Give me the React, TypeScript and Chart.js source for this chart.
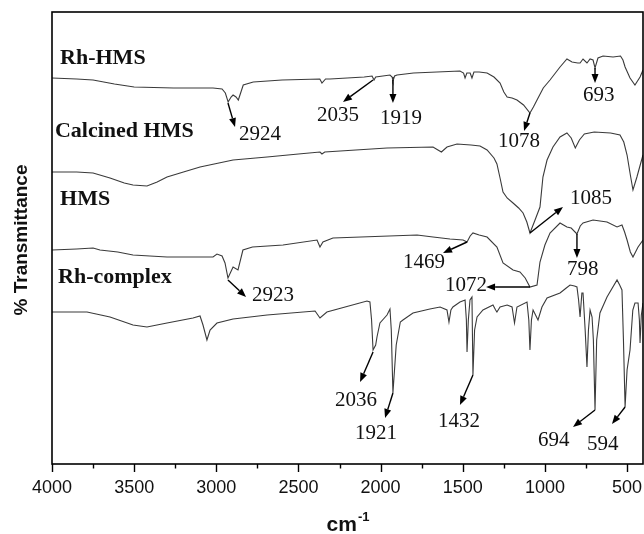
import React, { useEffect, useRef } from "react";
import { Chart, registerables } from "chart.js";

Chart.register(...registerables);

// ---- Data (wavenumber in cm-1, transmittance in arbitrary offset units) ----
const rhHmsWn = [4000,3850,3750,3620,3500,3260,3020,2965,2945,2928,2910,2898,2880,2866,2850,2836,2775,2600,2370,2357,2335,2308,2100,2052,2040,2030,1943,1930,1925,1915,1900,1800,1657,1517,1495,1486,1475,1455,1444,1432,1400,1352,1310,1273,1250,1230,1200,1170,1130,1091,1070,1048,1010,969,908,866,835,800,786,768,744,725,707,695,677,646,585,540,525,512,482,452,421,403];
const rhHmsT = [96.5,96.25,96,95,94.25,94,94,93.75,92.75,90.5,91.75,92.25,91.75,91,93,94.75,95.5,96,96.25,95.25,96.25,96.25,96.75,97,96,96.75,97.25,96.75,95.75,97,97.25,97.75,98,98.25,97.75,96.5,97.75,97.75,96.5,98,98,97.75,96.75,95.25,93,91.75,91.5,91,89.75,87.75,89.25,91,94,96,99.25,101.25,100.5,100.25,100.25,101.25,100.25,101.25,101,99,101.5,102,101.75,102,101,99.25,96.5,94.75,96.75,98.5];

const calcinedWn = [4000,3850,3750,3647,3560,3507,3422,3360,3300,3200,3099,2898,2691,2500,2369,2357,2340,1961,1681,1651,1630,1596,1535,1450,1395,1352,1310,1292,1273,1255,1230,1194,1160,1133,1110,1091,1060,1030,1012,987,951,908,866,840,815,790,760,700,600,543,520,500,480,464,440,420,403];
const calcinedT = [73,73,72.75,71.5,70.25,69.75,69.5,70.5,71.75,73,74.25,76,76.75,77.5,78,77.5,78,79,79.25,78.5,78,79.25,80,79.75,79.5,78.5,76.5,75,71.5,68,66.5,65.25,64,62.75,60.5,57.75,61,64.25,71.75,76,79.25,81.75,82.75,81.5,79,81,82.5,83,82.75,82.25,80.5,77.25,72.25,68.5,71.75,74.75,77.25];

const hmsWn = [4000,3850,3750,3708,3600,3507,3404,3300,3020,2996,2965,2947,2929,2898,2868,2838,2780,2594,2387,2369,2351,2290,1778,1681,1578,1498,1474,1455,1438,1400,1352,1292,1255,1194,1152,1120,1091,1048,1030,1000,969,908,866,840,805,785,768,707,622,561,531,515,500,480,464,433,403];
const hmsT = [53.5,53.75,54,53.5,53,52.25,52,51.75,51.75,52.5,52,50.25,46.5,49.25,48.5,53.5,54.25,54.75,56,54.25,55.5,56.5,57.25,56.75,56.25,56,55.5,57,57.75,57.25,56.75,54.25,50.25,48.5,48,46.5,44.25,44.75,50.5,54.75,57.75,60.25,59.25,59,57.5,59.5,60.25,61,60.5,59.25,59.75,58,56,53,51.75,54.25,56];

const rhComplexWn = [4000,3787,3647,3507,3422,3300,3142,3099,3081,3057,3038,2996,2898,2691,2399,2369,2327,2083,2065,2055,2046,2030,2022,2004,1961,1943,1935,1925,1905,1880,1864,1803,1700,1638,1596,1584,1572,1560,1517,1486,1478,1474,1466,1456,1444,1438,1428,1413,1377,1316,1300,1292,1273,1230,1200,1185,1170,1109,1098,1091,1082,1072,1042,1018,987,908,870,847,820,805,795,786,775,768,755,744,735,725,713,705,695,685,665,622,561,545,531,522,512,500,482,465,452,433,425,421,413,403];
const rhComplexT = [38,38,36.75,34.75,34.25,35.25,36.5,37,34.75,31,33.5,35.25,36.25,37.25,38.25,36.5,38,40.75,40.5,36,28.5,29.75,31.75,35.25,37.25,38.75,33.5,17.75,29.75,35.5,36,37.75,38.75,39.25,38.5,35.5,38.5,39.25,40.5,41,36,28,36,41,41.75,22.25,33.5,36.75,38.5,39.75,38.5,38,39.25,39.75,39.25,35.25,39.25,40.5,36,28.5,36,38.5,36,39.25,41.5,42.75,44,44.75,44.5,44.25,41,36.75,42.75,42.75,33.5,24.25,33.5,38.5,36.75,31,13.5,31,37.75,41.75,46,44.75,43.5,31,14.25,23.5,28.5,38.5,40.25,40.25,36,30.25,37.25,40.25];

const seriesNames = ["Rh-HMS", "Calcined HMS", "HMS", "Rh-complex"];
const seriesNameWn = [3951, 3982, 3951, 3963];
const seriesNameT = [100, 81.75, 64.75, 45.25];

const xTickValues = [4000, 3500, 3000, 2500, 2000, 1500, 1000, 500];

// peak annotations: label, label anchor, arrow start, arrow end (data coordinates)
const peakLabels = ["2924","2035","1919","1078","693","1085","1469","1072","798","2923","2036","1921","1432","694","594"];
const peakTextWn = [2862,2387,2004,1285,768,847,1864,1608,865,2783,2278,2156,1651,1042,744];
const peakTextT = [81,85.75,85,79.25,90.75,65,49,43.25,47.25,40.75,14.5,6.25,9.25,4.5,3.5];
const arrowFromWn = [2929,2046,1925,1091,695,1091,1474,1091,805,2929,2046,1925,1438,695,512];
const arrowFromT = [90.25,96,96,87.75,99,57.75,55.5,44.25,57.5,46,28,17.75,22.25,13.5,14.25];
const arrowToWn = [2886,2229,1925,1127,695,890,1620,1358,805,2819,2125,1973,1517,829,592];
const arrowToT = [84.25,90.5,90.25,83.25,95.25,64.25,52.75,44.25,51.5,41.75,20.5,11.5,14.75,9.25,10];

const toPoints = (wn: number[], t: number[]) => wn.map((w, i) => ({ x: w, y: t[i] }));

const overlayPlugin = {
  id: "overlay",
  afterDatasetsDraw(chart: any) {
    const { ctx, chartArea: ca, scales } = chart;
    const x = scales.x;
    const y = scales.y;
    ctx.save();
    // frame
    ctx.strokeStyle = "#000";
    ctx.lineWidth = 1.6;
    ctx.strokeRect(ca.left, ca.top, ca.right - ca.left, ca.bottom - ca.top);
    // ticks
    ctx.lineWidth = 1.4;
    for (let w = 4000; w >= 500; w -= 250) {
      const px = Math.round(x.getPixelForValue(w)) + 0.5;
      const len = w % 500 === 0 ? 8 : 4.5;
      ctx.beginPath();
      ctx.moveTo(px, ca.bottom);
      ctx.lineTo(px, ca.bottom + len);
      ctx.stroke();
    }
    // series names
    ctx.fillStyle = "#111";
    ctx.textAlign = "left";
    ctx.textBaseline = "alphabetic";
    ctx.font = 'bold 22px "Liberation Serif"';
    seriesNames.forEach((n, i) => {
      ctx.fillText(n, x.getPixelForValue(seriesNameWn[i]), y.getPixelForValue(seriesNameT[i]));
    });
    // peak labels + arrows
    ctx.font = '21px "Liberation Serif"';
    peakLabels.forEach((lab, i) => {
      ctx.fillStyle = "#111";
      ctx.fillText(lab, x.getPixelForValue(peakTextWn[i]), y.getPixelForValue(peakTextT[i]));
      const x1 = x.getPixelForValue(arrowFromWn[i]);
      const y1 = y.getPixelForValue(arrowFromT[i]);
      const x2 = x.getPixelForValue(arrowToWn[i]);
      const y2 = y.getPixelForValue(arrowToT[i]);
      const ang = Math.atan2(y2 - y1, x2 - x1);
      const hl = 9;
      const hw = 3.5;
      const bx = x2 - hl * Math.cos(ang);
      const by = y2 - hl * Math.sin(ang);
      ctx.strokeStyle = "#000";
      ctx.lineWidth = 1.4;
      ctx.beginPath();
      ctx.moveTo(x1, y1);
      ctx.lineTo(bx, by);
      ctx.stroke();
      ctx.fillStyle = "#000";
      ctx.beginPath();
      ctx.moveTo(x2, y2);
      ctx.lineTo(bx + hw * Math.sin(ang), by - hw * Math.cos(ang));
      ctx.lineTo(bx - hw * Math.sin(ang), by + hw * Math.cos(ang));
      ctx.closePath();
      ctx.fill();
    });
    // y title
    ctx.save();
    ctx.translate(22, (ca.top + ca.bottom) / 2 + 2);
    ctx.rotate(-Math.PI / 2);
    ctx.textAlign = "center";
    ctx.textBaseline = "middle";
    ctx.fillStyle = "#111";
    ctx.font = 'bold 19px "Liberation Sans"';
    ctx.fillText("% Transmittance", 0, 0);
    ctx.restore();
    // x title cm^-1
    ctx.fillStyle = "#111";
    ctx.textAlign = "left";
    ctx.textBaseline = "alphabetic";
    ctx.font = 'bold 21px "Liberation Sans"';
    const wCm = ctx.measureText("cm").width;
    ctx.font = 'bold 13px "Liberation Sans"';
    const wSup = ctx.measureText("-1").width;
    const startX = (ca.left + ca.right) / 2 - (wCm + wSup) / 2;
    ctx.font = 'bold 21px "Liberation Sans"';
    ctx.fillText("cm", startX, 531);
    ctx.font = 'bold 13px "Liberation Sans"';
    ctx.fillText("-1", startX + wCm + 1, 521);
    ctx.restore();
  },
};

export default function App() {
  const ref = useRef<HTMLCanvasElement | null>(null);
  useEffect(() => {
    if (!ref.current) return;
    const lineStyle = {
      borderColor: "#3a3a3a",
      borderWidth: 1.1,
      pointRadius: 0,
      tension: 0,
      fill: false,
    };
    const chart = new Chart(ref.current, {
      type: "line",
      data: {
        datasets: [
          { label: seriesNames[0], data: toPoints(rhHmsWn, rhHmsT), ...lineStyle },
          { label: seriesNames[1], data: toPoints(calcinedWn, calcinedT), ...lineStyle },
          { label: seriesNames[2], data: toPoints(hmsWn, hmsT), ...lineStyle },
          { label: seriesNames[3], data: toPoints(rhComplexWn, rhComplexT), ...lineStyle },
        ],
      },
      options: {
        responsive: false,
        animation: false,
        parsing: false,
        layout: { padding: { left: 52, right: 1, top: 12, bottom: 0 } },
        plugins: { legend: { display: false }, tooltip: { enabled: false } },
        scales: {
          x: {
            type: "linear",
            reverse: true,
            min: 403,
            max: 4000,
            afterFit: (s: any) => {
              s.height = 70;
              s.paddingLeft = 0;
              s.paddingRight = 0;
            },
            afterBuildTicks: (s: any) => {
              s.ticks = xTickValues.map((v) => ({ value: v }));
            },
            grid: { display: false, drawTicks: false },
            border: { display: false },
            ticks: {
              autoSkip: false,
              maxRotation: 0,
              padding: 13,
              color: "#111",
              font: { family: "Liberation Sans", size: 18 },
              callback: (v: any) => String(v),
            },
          },
          y: {
            type: "linear",
            display: false,
            min: 0,
            max: 113,
          },
        },
      },
      plugins: [overlayPlugin],
    });
    return () => chart.destroy();
  }, []);
  return (
    <div style={{ position: "absolute", left: 0, top: 0, width: 644, height: 534, background: "#fff" }}>
      <canvas ref={ref} width={644} height={534} style={{ display: "block" }} />
    </div>
  );
}
